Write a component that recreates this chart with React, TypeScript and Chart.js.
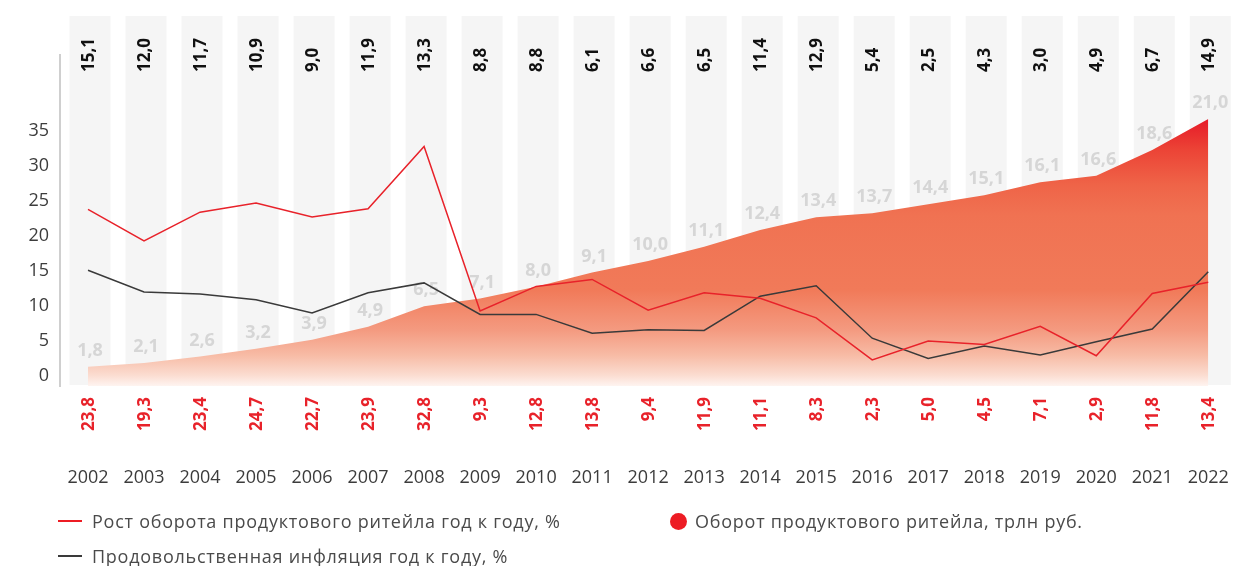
import React, { useEffect, useRef } from "react";
import { Chart, registerables } from "chart.js";

Chart.register(...registerables);

const years = [2002, 2003, 2004, 2005, 2006, 2007, 2008, 2009, 2010, 2011, 2012, 2013, 2014, 2015, 2016, 2017, 2018, 2019, 2020, 2021, 2022];
const turnover = [1.8, 2.1, 2.6, 3.2, 3.9, 4.9, 6.5, 7.1, 8.0, 9.1, 10.0, 11.1, 12.4, 13.4, 13.7, 14.4, 15.1, 16.1, 16.6, 18.6, 21.0];
const growth = [23.8, 19.3, 23.4, 24.7, 22.7, 23.9, 32.8, 9.3, 12.8, 13.8, 9.4, 11.9, 11.1, 8.3, 2.3, 5.0, 4.5, 7.1, 2.9, 11.8, 13.4];
const inflation = [15.1, 12.0, 11.7, 10.9, 9.0, 11.9, 13.3, 8.8, 8.8, 6.1, 6.6, 6.5, 11.4, 12.9, 5.4, 2.5, 4.3, 3.0, 4.9, 6.7, 14.9];
const yTicks = [0, 5, 10, 15, 20, 25, 30, 35];

const legendGrowth = "Рост оборота продуктового ритейла год к году, %";
const legendInflation = "Продовольственная инфляция год к году, %";
const legendTurnover = "Оборот продуктового ритейла, трлн руб.";

const FONT = '"Open Sans", "DejaVu Sans", sans-serif';
const RED = "#e8222a";
const DARK = "#3a3a3a";

const fmt = (v: number) => v.toFixed(1).replace(".", ",");

const decorPlugin = {
  id: "decor",
  beforeDatasetsDraw(chart: any) {
    const { ctx, chartArea, scales } = chart;
    const x = scales.x;
    const y2 = scales.y2;
    ctx.save();
    // background columns
    ctx.fillStyle = "#f5f5f5";
    years.forEach((yr) => {
      const px = x.getPixelForValue(yr) + 2;
      ctx.fillRect(px - 20.5, chartArea.top - 39, 41, chartArea.bottom - 1 - (chartArea.top - 39));
    });
    // turnover labels
    ctx.font = `bold 18px ${FONT}`;
    ctx.fillStyle = "#d6d6d6";
    ctx.textAlign = "center";
    ctx.textBaseline = "middle";
    turnover.forEach((v, i) => {
      ctx.fillText(fmt(v), x.getPixelForValue(years[i]) + 2, y2.getPixelForValue(v) - 16);
    });
    // top inflation labels (rotated)
    ctx.font = `bold 17px ${FONT}`;
    inflation.forEach((v, i) => {
      const px = x.getPixelForValue(years[i]);
      ctx.save();
      ctx.translate(px + 1, chartArea.top + 17);
      ctx.rotate(-Math.PI / 2);
      ctx.textAlign = "left";
      ctx.textBaseline = "middle";
      ctx.fillStyle = "#111111";
      ctx.fillText(fmt(v), 0, 0);
      ctx.restore();
    });
    // bottom growth labels (rotated)
    growth.forEach((v, i) => {
      const px = x.getPixelForValue(years[i]);
      ctx.save();
      ctx.translate(px + 1, chartArea.bottom + 11);
      ctx.rotate(-Math.PI / 2);
      ctx.textAlign = "right";
      ctx.textBaseline = "middle";
      ctx.fillStyle = RED;
      ctx.fillText(fmt(v), 0, 0);
      ctx.restore();
    });
    ctx.restore();
  },
};

function areaGradient(context: any) {
  const chart = context.chart;
  const { ctx, chartArea, scales } = chart;
  if (!chartArea || !scales.y2) return "rgba(240,112,80,0.8)";
  const top = scales.y2.getPixelForValue(21.0);
  const bottom = chartArea.bottom + 2;
  const g = ctx.createLinearGradient(0, top, 0, bottom);
  const at = (py: number) => Math.min(1, Math.max(0, (py - top) / (bottom - top)));
  g.addColorStop(0, "#e61a28");
  g.addColorStop(at(150), "#ec4436");
  g.addColorStop(at(185), "#ef6448");
  g.addColorStop(at(215), "#f07252");
  g.addColorStop(at(290), "#f17a59");
  g.addColorStop(at(330), "#f49a80");
  g.addColorStop(at(355), "#f7bba5");
  g.addColorStop(at(375), "#fbdcd0");
  g.addColorStop(1, "#fff8f6");
  return g;
}

export default function App() {
  const canvasRef = useRef<HTMLCanvasElement | null>(null);

  useEffect(() => {
    document.body.style.margin = "0";
    const canvas = canvasRef.current;
    if (!canvas) return;
    const chart = new Chart(canvas, {
      type: "line",
      data: {
        datasets: [
          {
            label: legendGrowth,
            data: years.map((yr, i) => ({ x: yr, y: growth[i] })),
            borderColor: RED,
            borderWidth: 1.5,
            pointRadius: 0,
            tension: 0,
            fill: false,
            yAxisID: "y",
            order: 1,
          },
          {
            label: legendInflation,
            data: years.map((yr, i) => ({ x: yr, y: inflation[i] })),
            borderColor: DARK,
            borderWidth: 1.5,
            pointRadius: 0,
            tension: 0,
            fill: false,
            yAxisID: "y",
            order: 2,
          },
          {
            label: legendTurnover,
            data: years.map((yr, i) => ({ x: yr, y: turnover[i] })),
            borderWidth: 0,
            borderColor: "rgba(0,0,0,0)",
            backgroundColor: areaGradient,
            pointRadius: 0,
            tension: 0,
            fill: "start",
            yAxisID: "y2",
            order: 10,
          },
        ],
      },
      options: {
        animation: false,
        responsive: true,
        maintainAspectRatio: false,
        layout: { padding: { top: 55, bottom: 79, left: 0, right: 0 } },
        plugins: {
          legend: { display: false },
          tooltip: { enabled: false },
        },
        scales: {
          x: {
            type: "linear",
            min: 2001.5,
            max: 2022 + 24 / 56.05,
            grid: { display: false, drawTicks: false },
            border: { display: false },
            ticks: {
              padding: 81,
              autoSkip: false,
              maxRotation: 0,
              color: "#3c3c3c",
              font: { family: FONT, size: 18 },
              callback: (v: any) => String(v),
            },
            afterBuildTicks: (s: any) => {
              s.ticks = years.map((v) => ({ value: v }));
            },
            afterFit: (s: any) => {
              s.height = 101;
              s.paddingLeft = 0;
              s.paddingRight = 0;
            },
          },
          y: {
            position: "left",
            min: -10 / 7,
            max: 321 / 7,
            grid: { display: false, drawTicks: false },
            border: { display: true, color: "#cfcfcf", width: 2 },
            ticks: {
              padding: 11,
              color: "#3c3c3c",
              font: { family: FONT, size: 18 },
            },
            afterBuildTicks: (s: any) => {
              s.ticks = yTicks.map((v) => ({ value: v }));
            },
            afterFit: (s: any) => {
              s.width = 60;
              s.paddingTop = 0;
              s.paddingBottom = 0;
            },
          },
          y2: {
            display: false,
            position: "right",
            min: 4 / 12.9,
            max: 4 / 12.9 + 331 / 12.9,
          },
        },
      } as any,
      plugins: [decorPlugin],
    });
    const fontsApi: any = (document as any).fonts;
    if (fontsApi && fontsApi.load) {
      Promise.all([
        fontsApi.load(`18px "Open Sans"`),
        fontsApi.load(`bold 18px "Open Sans"`),
      ])
        .then(() => chart.update())
        .catch(() => {});
    }
    return () => {
      chart.destroy();
    };
  }, []);

  const textStyle: React.CSSProperties = {
    position: "absolute",
    fontFamily: FONT,
    fontSize: 18,
    letterSpacing: "0.75px",
    color: "#4a4a4a",
    whiteSpace: "nowrap",
    lineHeight: "20px",
  };

  return (
    <div style={{ position: "relative", width: 1233, height: 566, overflow: "hidden", background: "#fff" }}>
      <canvas ref={canvasRef} style={{ position: "absolute", left: 0, top: 0 }} />
      <div style={{ position: "absolute", left: 0, top: 0, width: 1233, height: 566 }}>
        <div style={{ position: "absolute", left: 58, top: 520, width: 24, height: 2, background: "#ed1c24" }} />
        <div style={{ ...textStyle, left: 92, top: 511 }}>{legendGrowth}</div>
        <div style={{ position: "absolute", left: 58, top: 555, width: 24, height: 2, background: "#3a3a3a" }} />
        <div style={{ ...textStyle, left: 92, top: 546 }}>{legendInflation}</div>
        <div style={{ position: "absolute", left: 670, top: 513, width: 17, height: 17, borderRadius: "50%", background: "#ed1c24" }} />
        <div style={{ ...textStyle, left: 695, top: 511 }}>{legendTurnover}</div>
      </div>
    </div>
  );
}
